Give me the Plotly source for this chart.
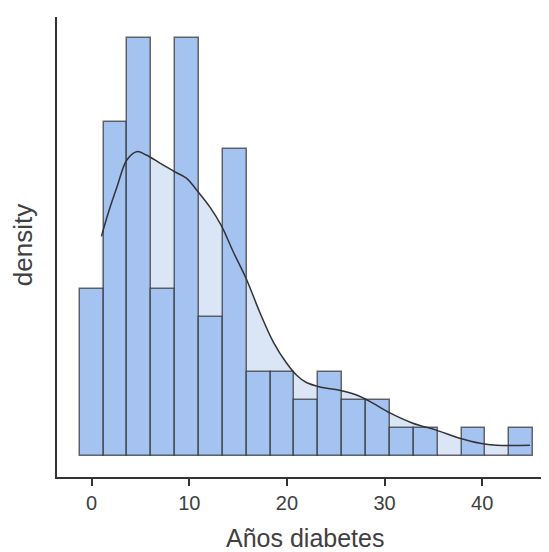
import plotly.graph_objects as go

# Histogram bins (centers, in years) and counts
bin_centers = [0, 2.444, 4.889, 7.333, 9.778, 12.222, 14.667, 17.111, 19.556, 22.0,
               24.444, 26.889, 29.333, 31.778, 34.222, 36.667, 39.111, 41.556, 44.0]
bin_counts = [6, 12, 15, 6, 15, 5, 11, 3, 3, 2, 3, 2, 2, 1, 1, 0, 1, 0, 1]
bin_width = 2.444

# Density curve (same vertical scale as the counts)
kde_x = [1.0, 1.7, 2.6, 3.6, 4.6, 5.6, 7.0, 8.5, 9.7, 10.9, 12.1, 13.3, 14.5, 15.9,
         17.2, 18.6, 20.0, 21.0, 22.0, 23.4, 25.4, 27.2, 28.8, 30.6, 32.9, 35.3,
         37.7, 39.8, 41.5, 43.0, 44.9]
kde_y = [7.88, 8.72, 9.66, 10.62, 10.92, 10.80, 10.51, 10.20, 9.97, 9.48, 8.94, 8.26,
         7.33, 6.31, 5.18, 4.10, 3.32, 2.90, 2.64, 2.48, 2.36, 2.18, 1.90, 1.54, 1.18,
         0.93, 0.64, 0.46, 0.39, 0.38, 0.39]

x_ticks = [0, 10, 20, 30, 40]
x_title = "Años diabetes"
y_title = "density"

X_RANGE = [-3.55, 46.85]
Y_RANGE = [-0.75, 15.75]

FONT = "Liberation Sans, Arial, sans-serif"
TEXT = "#404040"

fig = go.Figure()

# light filled density area (bottom layer)
fig.add_trace(go.Scatter(
    x=kde_x, y=kde_y, mode="lines", line=dict(width=0, shape="spline"),
    fill="tozeroy", fillcolor="#DAE5F6", hoverinfo="skip", showlegend=False,
    xaxis="x", yaxis="y"))

# histogram bars on an overlaid axis pair so they sit above the fill
fig.add_trace(go.Bar(
    x=bin_centers, y=bin_counts, width=bin_width,
    marker=dict(color="#A5C3F0", line=dict(color="rgba(45,45,45,0.7)", width=1.5)),
    showlegend=False, xaxis="x2", yaxis="y2"))

# density curve line on top
fig.add_trace(go.Scatter(
    x=kde_x, y=kde_y, mode="lines",
    line=dict(color="#333333", width=1.5, shape="spline"),
    showlegend=False, xaxis="x2", yaxis="y2"))

# the page body adds an 8px offset, so the figure is 8px smaller and shifted
fig.update_layout(
    width=541, height=544,
    margin=dict(l=49, r=0, t=9, b=75),
    paper_bgcolor="white", plot_bgcolor="white",
    bargap=0,
    font=dict(family=FONT, color=TEXT),
    xaxis=dict(
        range=X_RANGE, tickvals=x_ticks, ticks="outside", ticklen=7,
        tickwidth=1.5, tickcolor="#333333",
        showline=True, linecolor="#333333", linewidth=1.5,
        showgrid=False, zeroline=False, automargin=False,
        tickfont=dict(size=20, color=TEXT),
    ),
    yaxis=dict(
        range=Y_RANGE, showticklabels=False, ticks="",
        showline=True, linecolor="#333333", linewidth=1.5,
        showgrid=False, zeroline=False, automargin=False,
    ),
    xaxis2=dict(range=X_RANGE, overlaying="x", visible=False, showgrid=False,
                zeroline=False),
    yaxis2=dict(range=Y_RANGE, overlaying="y", visible=False, showgrid=False,
                zeroline=False),
    annotations=[
        dict(text=x_title, xref="paper", yref="paper", x=0.505, y=-0.1326,
             xanchor="center", yanchor="middle", showarrow=False,
             font=dict(size=25, color=TEXT, family=FONT)),
        dict(text=y_title, xref="paper", yref="paper", x=-0.069, y=0.504,
             xanchor="center", yanchor="middle", textangle=-90, showarrow=False,
             font=dict(size=26, color=TEXT, family=FONT)),
    ],
)

fig.write_html("out.html")
